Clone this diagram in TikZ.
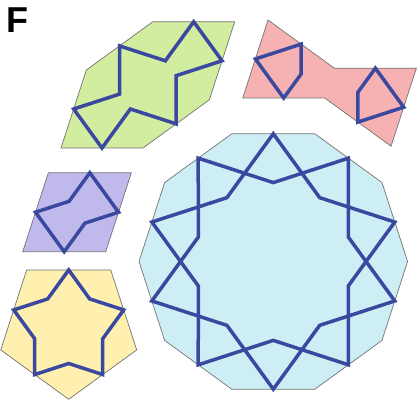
\documentclass[tikz,border=0pt]{standalone}
\usepackage{fontspec}
\setsansfont{Liberation Sans}

\definecolor{strapblue}{RGB}{58,72,160}
\definecolor{hexgreen}{RGB}{210,236,160}
\definecolor{bowpink}{RGB}{246,178,178}
\definecolor{rhombpurple}{RGB}{192,186,236}
\definecolor{pentyellow}{RGB}{255,240,176}
\definecolor{decablue}{RGB}{206,238,245}

\begin{document}
\begin{tikzpicture}[
x=1pt,y=1pt,
tile/.style={draw=black!55, line width=0.7pt},
strap/.style={draw=strapblue, line width=3.5pt, line join=miter}
]
\useasboundingbox (0,0) rectangle (417,403);

% =======================
% LABEL
% =======================

\node[font=\sffamily\bfseries\fontsize{36}{36}\selectfont] (lab) at (17,383) {F};

% =======================
% ELONGATED HEXAGON
% =======================

\draw[tile, fill=hexgreen] (61,255) -- ++(72:82) -- ++(36:82) -- ++(0:82)
  -- ++(-108:82) -- ++(-144:82) -- cycle;
\draw[strap] (119.51,357.09) -- (165.34,342.20) -- (193.68,381.19)
  -- (222.01,342.20) -- (176.17,327.31) -- (176.17,279.10)
  -- (130.34,293.99) -- (102.00,255.00) -- (73.67,294.00)
  -- (119.51,308.89) -- cycle;

% =======================
% BOW TIE
% =======================

\draw[tile, fill=bowpink] (242.7,305) -- ++(72:82) -- ++(-36:82) -- ++(0:82)
  -- ++(-108:82) -- ++(144:82) -- cycle;
\draw[strap] (255.37,344.00) -- (301.21,358.89) -- (301.21,329.09)
  -- (283.70,305.00) -- cycle;
\draw[strap] (375.38,334.79) -- (403.71,295.80) -- (357.87,280.90)
  -- (357.87,310.71) -- cycle;

% =======================
% RHOMBUS
% =======================

\draw[tile, fill=rhombpurple] (22.7,151.3) -- ++(0:83) -- ++(72:83)
  -- ++(180:83) -- cycle;
\draw[strap] (89.85,230.24) -- (118.53,190.77) -- (84.96,179.86)
  -- (64.20,151.30) -- (35.53,190.77) -- (69.09,201.68) -- cycle;

% =======================
% PENTAGON
% =======================

\begin{scope}[shift={(68.7,75.2)}]
\draw[tile, fill=pentyellow] (54:71.5) \foreach \t in {126,198,270,342} {-- (\t:71.5)} -- cycle;
\draw[strap] (90:57.8) \foreach \t in {162,234,306,378} {-- (\t-36:35.7) -- (\t:57.8)}
  -- (54:35.7) -- cycle;
\end{scope}

% =======================
% DECAGON
% =======================

\begin{scope}[shift={(273.3,141.5)}]
\draw[tile, fill=decablue] (0:134.3) \foreach \t in {36,72,...,324} {-- (\t:134.3)} -- cycle;
\foreach \s in {0,36} {
  \draw[strap] (90+\s:127.7) \foreach \t in {72,144,216,288} {-- (54+\s+\t:78.9) -- (90+\s+\t:127.7)}
    -- (54+\s:78.9) -- cycle;
}
\end{scope}

\end{tikzpicture}
\end{document}
